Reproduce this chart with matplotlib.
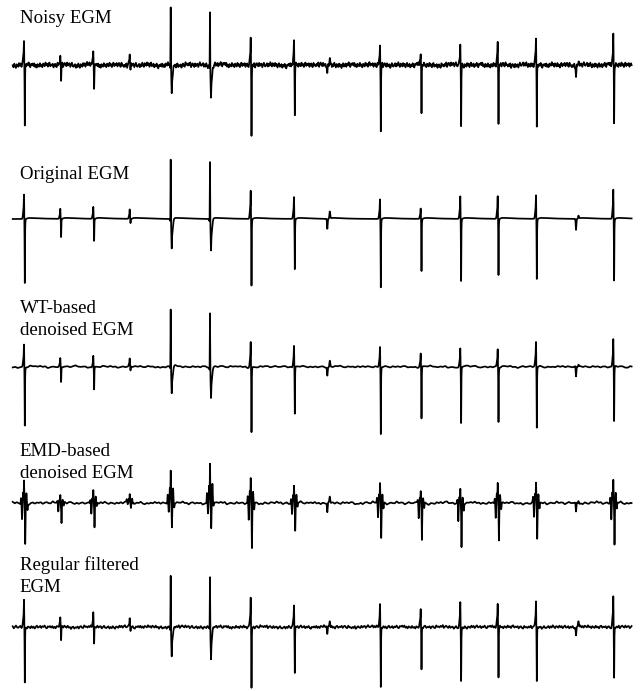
import numpy as np
import matplotlib
matplotlib.use("Agg")
import matplotlib.pyplot as plt

# ---------------- data ----------------
# beat times (s) shared by all traces
beat_times = [0.113, 0.476, 0.806, 1.170, 1.580, 1.973, 2.380, 2.813,
              3.146, 3.673, 4.080, 4.476, 4.850, 5.233, 5.633, 6.006]
# beat morphology: v = sharp biphasic, a = wide negative, s = small negative-first
beat_kind = ['v', 'v', 'v', 'v', 'a', 'a', 'v', 'v',
             's', 'v', 'v', 'v', 'v', 'v', 's', 'v']

# positive / negative peak amplitudes (a.u.) per trace
noisy_up = [27, 10, 15, 12, 64, 62, 31, 26, 8, 23, 14, 24, 24, 30, 4, 34]
noisy_dn = [63, 17, 23, 5, 29, 34, 72, 52, 8, 69, 51, 62, 60, 64, 12, 61]
orig_up = [27, 11, 13, 10, 66, 64, 31, 24, 7, 22, 12, 25, 25, 26, 3, 32]
orig_dn = [66, 19, 23, 5, 30, 32, 69, 52, 10, 70, 53, 64, 58, 62, 11, 64]
wt_up = [25, 9, 13, 8, 63, 61, 28, 23, 6, 22, 15, 20, 20, 27, 2, 30]
wt_dn = [60, 16, 23, 5, 27, 31, 67, 49, 8, 69, 53, 58, 56, 63, 10, 57]
emd_up = [23, 8, 14, 9, 33, 40, 25, 18, 6, 20, 11, 14, 20, 20, 3, 23]
emd_dn = [40, 20, 24, 5, 24, 25, 45, 27, 9, 35, 37, 44, 37, 36, 9, 41]
reg_up = [30, 9, 15, 10, 59, 57, 33, 24, 6, 25, 20, 27, 25, 29, 5, 34]
reg_dn = [59, 14, 19, 5, 30, 32, 63, 48, 6, 62, 44, 55, 52, 56, 9, 53]

labels = ["Noisy EGM", "Original EGM", "WT-based\ndenoised EGM",
          "EMD-based\ndenoised EGM", "Regular filtered\nEGM"]

# hand-typed noise texture samples (normalised)
NOISE = [0.3, -0.5, 0.8, -0.2, -0.9, 0.4, 0.1, -0.6, 0.7, -0.3,
         0.5, -0.8, 0.2, 0.9, -0.4, -0.1, 0.6, -0.7, 0.3, -0.2,
         0.8, -0.5, -0.9, 0.4, 0.0, 0.6, -0.3, 0.7, -0.6, 0.2,
         -0.8, 0.5, 0.1, -0.4, 0.9, -0.2, 0.3, -0.7, 0.6, -0.1,
         -0.5, 0.8, -0.3, 0.2, -0.9, 0.4, 0.7, -0.6, 0.1, -0.2,
         0.5, -0.8, 0.3, 0.6, -0.4, -0.7, 0.9, -0.1, 0.2, -0.5,
         0.4, -0.3, 0.8, -0.9, 0.1, 0.6, -0.2, -0.6, 0.7, -0.4,
         0.3, 0.5, -0.8, 0.0, 0.9, -0.3, -0.5, 0.2, 0.6, -0.7]

# ---------------- layout / style ----------------
W, H, DPI = 641, 691, 100
t = np.arange(0.0, 6.19, 0.001)
baselines_px = [65, 219, 367, 503, 627]
label_last_base_px = [23.3, 179, 335, 478, 592]


def g(c, s):
    return np.exp(-0.5 * ((t - c) / s) ** 2)


def beats(ups, dns, overshoot=0.0):
    y = np.zeros_like(t)
    for t0, k, up, dn in zip(beat_times, beat_kind, ups, dns):
        if k == 'v':
            y += up * (0.6 * g(t0, 0.0018) + 0.4 * g(t0 - 0.003, 0.006))
            y -= dn * (0.85 * g(t0 + 0.008, 0.0018) + 0.15 * g(t0 + 0.008, 0.004))
        elif k == 'a':
            y += up * g(t0, 0.0018)
            y -= dn * (0.45 * g(t0 + 0.010, 0.002) + 0.55 * g(t0 + 0.012, 0.009))
        else:
            y -= dn * g(t0, 0.003)
            y += up * g(t0 + 0.025, 0.004)
        if overshoot:
            m = t > t0 + 0.02
            d = t[m] - t0 - 0.02
            y[m] += overshoot * np.exp(-d / 0.15) * (1 - np.exp(-d / 0.02))
    return y


def emd_beats(ups, dns):
    y = np.zeros_like(t)
    for t0, k, up, dn in zip(beat_times, beat_kind, ups, dns):
        if k == 's':
            y -= dn * g(t0, 0.003)
            y += up * g(t0 + 0.025, 0.004)
            continue
        s = 0.0025
        y += 0.25 * up * g(t0 - 0.030, s)
        y -= 0.40 * dn * g(t0 - 0.020, s)
        y += 0.45 * up * g(t0 - 0.009, s)
        y += up * g(t0, 0.0022)
        y -= dn * g(t0 + 0.012, 0.0024)
        y += 0.45 * up * g(t0 + 0.024, s)
        y -= 0.15 * dn * g(t0 + 0.035, s)
    return y


def texture(step, shift):
    knots = np.arange(0.0, t[-1] + step, step)
    vals = np.resize(np.roll(NOISE, shift), len(knots))
    return np.interp(t, knots, vals)


traces = [
    beats(noisy_up, noisy_dn) + 2.7 * texture(0.008, 0) + 1.2 * texture(0.07, 17),
    beats(orig_up, orig_dn, overshoot=1.5),
    beats(wt_up, wt_dn, overshoot=0.8) + 0.9 * texture(0.025, 31) + 0.8 * texture(0.09, 5),
    emd_beats(emd_up, emd_dn) + 1.2 * texture(0.02, 44) + 1.0 * texture(0.08, 60),
    beats(reg_up, reg_dn) + 1.6 * texture(0.011, 9) + 0.8 * texture(0.1, 23),
]

fig = plt.figure(figsize=(W / DPI, H / DPI), dpi=DPI)
ax = fig.add_axes([0, 0, 1, 1])
ax.set_xlim(-0.127, -0.127 + W / 100.0)
ax.set_ylim(-H, 0)
ax.axis('off')

for y, b in zip(traces, baselines_px):
    ax.plot(t, y - b, color='black', lw=1.25, solid_joinstyle='round')

for lab, yb in zip(labels, label_last_base_px):
    fig.text(19.5 / W, 1 - yb / H, lab, family='Liberation Serif', fontsize=13.6,
             ha='left', va='baseline', linespacing=1.4, color='black')

fig.savefig('out.png', dpi=DPI, facecolor='white')
